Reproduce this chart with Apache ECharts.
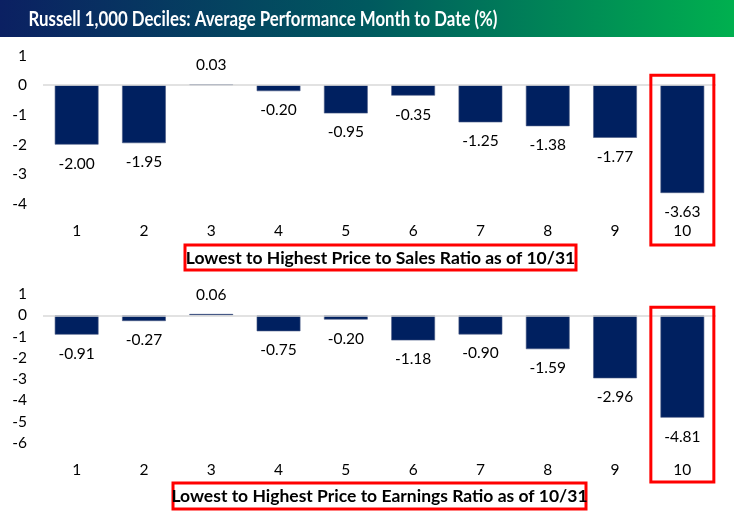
<!DOCTYPE html>
<html><head><meta charset="utf-8">
<script src="https://cdn.jsdelivr.net/npm/echarts@6/dist/echarts.min.js"></script>
<style>html,body{margin:0;padding:0;background:#fff}#c{width:734px;height:513px}</style>
</head><body><div id="c"></div>
<script>
const titleText = 'Russell 1,000 Deciles: Average Performance Month to Date (%)';
const subtitle1 = 'Lowest to Highest Price to Sales Ratio as of 10/31';
const subtitle2 = 'Lowest to Highest Price to Earnings Ratio as of 10/31';
const categories = ['1','2','3','4','5','6','7','8','9','10'];
const priceToSales = [-2.00,-1.95,0.03,-0.20,-0.95,-0.35,-1.25,-1.38,-1.77,-3.63];
const priceToEarnings = [-0.91,-0.27,0.06,-0.75,-0.20,-1.18,-0.90,-1.59,-2.96,-4.81];
const highlightIndex = 9;

const FONT = 'Lato';
const BAR = '#002060';

function barData(arr){
  return arr.map(v => ({value: v, label: {position: v >= 0 ? 'top' : 'bottom'}}));
}
function barSeries(arr, idx){
  return {
    type: 'bar', xAxisIndex: idx, yAxisIndex: idx, barWidth: '65%',
    data: barData(arr),
    itemStyle: {color: BAR, borderColor: '#4a5a85', borderWidth: 0.6},
    label: {show: true, distance: 11, color: '#000', fontFamily: FONT, fontSize: 15.5,
      formatter: p => p.value.toFixed(2)},
    markLine: {silent: true, symbol: 'none', label: {show: false},
      lineStyle: {color: '#d9d9d9', width: 1.5, type: 'solid'}, data: [{yAxis: 0}]},
    z: 3
  };
}
const axisLabelStyle = {color: '#000', fontFamily: FONT, fontSize: 15.5};

const chart = echarts.init(document.getElementById('c'), null, {renderer: 'canvas'});
const option = {
  animation: false,
  grid: [
    {left: 43, right: 18, top: 55.5, height: 148.5},
    {left: 43, right: 18, top: 294, height: 149}
  ],
  xAxis: [0,1].map(i => ({
    type: 'category', gridIndex: i, data: categories,
    axisLine: {show: false}, axisTick: {show: false},
    axisLabel: Object.assign({margin: 19}, axisLabelStyle)
  })),
  yAxis: [
    {type: 'value', gridIndex: 0, min: -4, max: 1, interval: 1,
      splitLine: {show: false}, axisLine: {show: false}, axisTick: {show: false},
      axisLabel: Object.assign({margin: 16}, axisLabelStyle)},
    {type: 'value', gridIndex: 1, min: -6, max: 1, interval: 1,
      splitLine: {show: false}, axisLine: {show: false}, axisTick: {show: false},
      axisLabel: Object.assign({margin: 16}, axisLabelStyle)}
  ],
  series: [barSeries(priceToSales, 0), barSeries(priceToEarnings, 1)]
};
chart.setOption(option);

const c1 = chart.convertToPixel({xAxisIndex: 0, yAxisIndex: 0}, [highlightIndex, 0]);
const c2 = chart.convertToPixel({xAxisIndex: 1, yAxisIndex: 1}, [highlightIndex, 0]);
const bottom1 = chart.convertToPixel({yAxisIndex: 0}, -4);
const bottom2 = chart.convertToPixel({yAxisIndex: 1}, -6);
const halfW = 31.5;

chart.setOption({
  graphic: [
    {type: 'rect', left: 0, top: 0, shape: {width: 734, height: 37},
      style: {fill: new echarts.graphic.LinearGradient(0,0,1,0,[
        {offset: 0, color: '#0b2062'}, {offset: 0.5, color: '#00595f'}, {offset: 1, color: '#00b04f'}])}},
    {type: 'text', x: 263, y: 19, scaleX: 0.82, style: {text: titleText, fill: '#fff', font: 'bold 20.5px ' + FONT,
      align: 'center', verticalAlign: 'middle'}},
    {type: 'rect', shape: {x: c1[0]-halfW, y: c1[1]-10, width: halfW*2, height: bottom1 + 41 - (c1[1]-10)},
      style: {fill: 'none', stroke: '#ff0000', lineWidth: 3}, z: 10},
    {type: 'rect', shape: {x: c2[0]-halfW, y: c2[1]-8, width: halfW*2, height: bottom2 + 39 - (c2[1]-8)},
      style: {fill: 'none', stroke: '#ff0000', lineWidth: 3}, z: 10},
    {type: 'rect', shape: {x: 185, y: 245, width: 391, height: 25},
      style: {fill: '#fff', stroke: '#ff0000', lineWidth: 3}, z: 10},
    {type: 'text', x: 380.5, y: 258, z: 11, style: {text: subtitle1, fill: '#000', font: 'bold 17.5px ' + FONT,
      align: 'center', verticalAlign: 'middle'}},
    {type: 'rect', shape: {x: 173, y: 483, width: 413, height: 26},
      style: {fill: '#fff', stroke: '#ff0000', lineWidth: 3}, z: 10},
    {type: 'text', x: 379.5, y: 496, z: 11, style: {text: subtitle2, fill: '#000', font: 'bold 17.5px ' + FONT,
      align: 'center', verticalAlign: 'middle'}}
  ]
});
</script></body></html>
